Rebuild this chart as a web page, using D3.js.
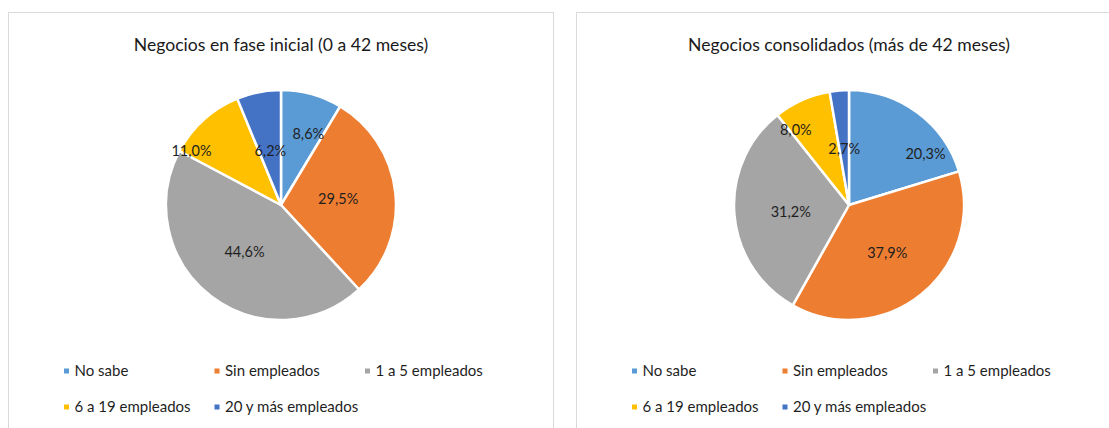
<!DOCTYPE html>
<html>
<head>
<meta charset="utf-8">
<script src="https://cdn.jsdelivr.net/npm/d3@7"></script>
<style>
  body { margin: 0; background: #fff; }
  svg { display: block; font-family: Lato, "Noto Sans", sans-serif; }
</style>
</head>
<body>
<svg id="chart"></svg>
<script>
// categories and values
const categories = ["No sabe", "Sin empleados", "1 a 5 empleados", "6 a 19 empleados", "20 y más empleados"];
const inicialValues = [8.6, 29.5, 44.6, 11.0, 6.2];
const consolidadosValues = [20.3, 37.9, 31.2, 8.0, 2.7];
const titles = ["Negocios en fase inicial (0 a 42 meses)", "Negocios consolidados (más de 42 meses)"];

const colors = ["#5B9BD5", "#ED7D31", "#A5A5A5", "#FFC000", "#4472C4"];

// label placement like Excel's "best fit": [radius factor, position inside slice 0..1]
const labelPlacement = [
  [[0.66, 0.68], [0.5, 0.5], [0.52, 0.5], [0.91, 0.08], [0.48, 0.5]],
  [[0.8, 0.77], [0.53, 0.5], [0.51, 0.48], [0.8, 0.11], [0.49, 0.5]]
];

const width = 1109, height = 428;
const panelW = 545, panelTop = 12.5;
const panels = [
  { x: 8.5, values: inicialValues },
  { x: 576.5, values: consolidadosValues }
];
const radius = 115;
const pieCy = 205;

const svg = d3.select("#chart")
  .attr("width", width)
  .attr("height", height);

const color = d3.scaleOrdinal().domain(categories).range(colors);
const pie = d3.pie().sort(null).value(d => d.value);
const arc = d3.arc().innerRadius(0).outerRadius(radius);
const fmt = v => d3.format(".1f")(v).replace(".", ",") + "%";

panels.forEach((p, i) => {
  const g = svg.append("g").attr("transform", `translate(${p.x}, ${panelTop})`);

  g.append("rect")
    .attr("width", panelW)
    .attr("height", height)
    .attr("fill", "#fff")
    .attr("stroke", "#d9d9d9")
    .attr("stroke-width", 1);

  const cx = panelW / 2;

  g.append("text")
    .attr("x", cx)
    .attr("y", 38)
    .attr("text-anchor", "middle")
    .attr("font-size", "17.6px")
    .attr("fill", "#1a1a1a")
    .text(titles[i]);

  const data = categories.map((c, k) => ({ cat: c, value: p.values[k] }));
  const arcs = pie(data);

  const pg = g.append("g").attr("transform", `translate(${cx}, ${pieCy - panelTop})`);

  pg.selectAll("path")
    .data(arcs)
    .enter()
    .append("path")
    .attr("d", arc)
    .attr("fill", d => color(d.data.cat))
    .attr("stroke", "#fff")
    .attr("stroke-width", 2.5)
    .attr("stroke-linejoin", "round");

  pg.selectAll("text")
    .data(arcs)
    .enter()
    .append("text")
    .attr("transform", (d, k) => {
      const [rf, frac] = labelPlacement[i][k];
      const a = d.startAngle + (d.endAngle - d.startAngle) * frac;
      const r = radius * rf;
      return `translate(${r * Math.sin(a)}, ${-r * Math.cos(a)})`;
    })
    .attr("text-anchor", "middle")
    .attr("dy", "0.35em")
    .attr("font-size", "14.5px")
    .attr("fill", "#1f1f1f")
    .text(d => fmt(d.data.value));

  // legend: two rows, three columns
  const legend = g.append("g");
  const item = legend.selectAll("g")
    .data(categories)
    .enter()
    .append("g")
    .attr("transform", (d, k) => `translate(${58 + (k % 3) * 150.5}, ${358.5 + Math.floor(k / 3) * 36})`);

  item.append("rect")
    .attr("x", -2.5)
    .attr("y", -2.5)
    .attr("width", 5)
    .attr("height", 5)
    .attr("fill", d => color(d));

  item.append("text")
    .attr("x", 8)
    .attr("dy", "0.35em")
    .attr("font-size", "15px")
    .attr("fill", "#1f1f1f")
    .text(d => d);
});
</script>
</body>
</html>
